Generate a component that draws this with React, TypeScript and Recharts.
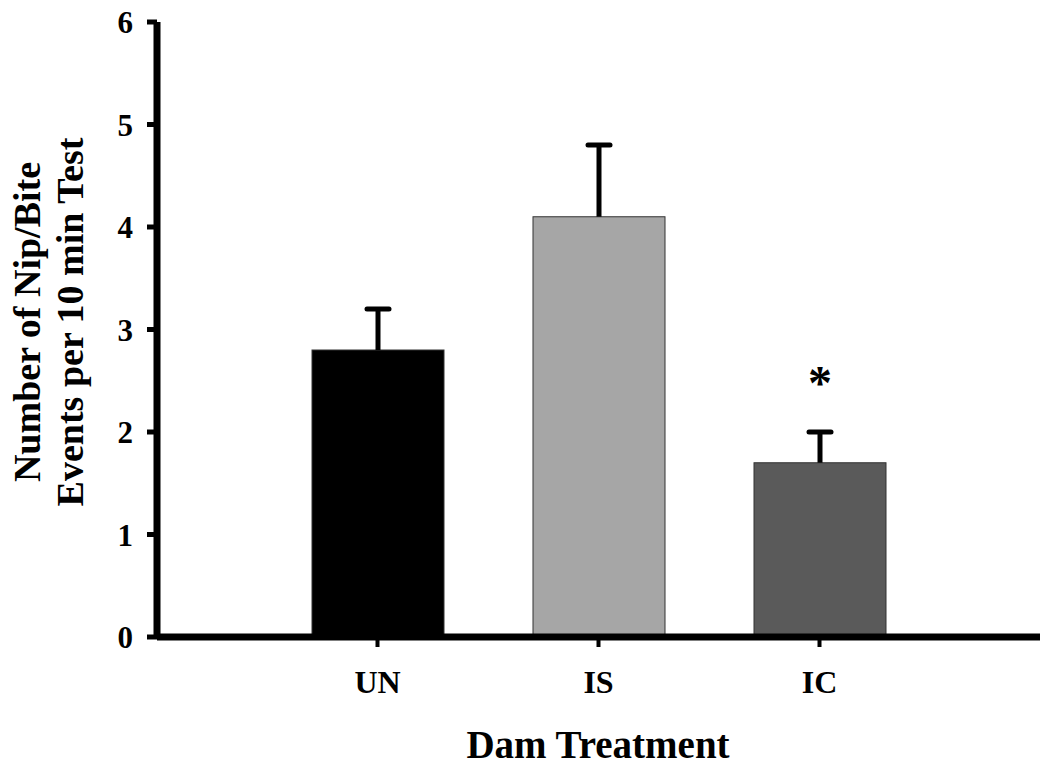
import React from "react";
import { BarChart, Bar, XAxis, YAxis } from "recharts";

const categories = ["UN", "IS", "IC"];
const means = [2.8, 4.1, 1.7];
const sems = [0.4, 0.7, 0.3];
const significant = [false, false, true];
const yTicks = [0, 1, 2, 3, 4, 5, 6];
const barColors = ["#000000", "#a6a6a6", "#5a5a5a"];

const data = categories.map((name, i) => ({
  name,
  mean: means[i],
  sem: sems[i],
  sig: significant[i],
  color: barColors[i],
}));

const FONT = "'Liberation Serif', 'Times New Roman', serif";

const BarWithError = (props: any) => {
  const { x, y, width, height, payload } = props;
  const pxPerUnit = height / payload.mean;
  const cx = x + width / 2;
  const errTop = y - payload.sem * pxPerUnit;
  return (
    <g>
      <rect x={x} y={y} width={width} height={height} fill={payload.color} stroke="#333" strokeWidth={1} />
      <line x1={cx} y1={y} x2={cx} y2={errTop} stroke="#000" strokeWidth={5} />
      <line x1={cx - 11} y1={errTop} x2={cx + 11} y2={errTop} stroke="#000" strokeWidth={5} strokeLinecap="round" />
      {payload.sig && (
        <text x={cx} y={errTop - 33} textAnchor="middle" fontFamily={FONT} fontWeight="bold" fontSize={48} fill="#000">
          *
        </text>
      )}
    </g>
  );
};

// two-line rotated axis title
const YLabel = () => (
  <text
    x={40}
    y={322}
    transform="rotate(-90, 40, 322)"
    textAnchor="middle"
    fontFamily={FONT}
    fontWeight="bold"
    fontSize={38}
    fill="#000"
  >
    <tspan x={40} dy={0}>Number of Nip/Bite</tspan>
    <tspan x={40} dy={43}>Events per 10 min Test</tspan>
  </text>
);

const XLabel = () => (
  <text x={598} y={758} textAnchor="middle" fontFamily={FONT} fontWeight="bold" fontSize={39} fill="#000">
    Dam Treatment
  </text>
);

export default function App() {
  return (
    <div style={{ position: "absolute", left: 0, top: 0, background: "#fff" }}>
      <BarChart
        width={1050}
        height={775}
        data={data}
        margin={{ top: 22, right: 10, bottom: 8, left: 79 }}
      >
        <XAxis
          dataKey="name"
          padding={{ left: 110, right: 110 }}
          height={130}
          axisLine={{ stroke: "#000", strokeWidth: 7 }}
          tickLine={{ stroke: "#000", strokeWidth: 4 }}
          tickSize={10}
          tickMargin={23}
          tick={{ fill: "#000", fontFamily: FONT, fontWeight: "bold", fontSize: 32 }}
          label={{ content: () => <XLabel /> }}
        />
        <YAxis
          domain={[0, 6]}
          ticks={yTicks}
          width={78}
          axisLine={{ stroke: "#000", strokeWidth: 7 }}
          tickLine={{ stroke: "#000", strokeWidth: 5 }}
          tickSize={10}
          tickMargin={14}
          tick={{ fill: "#000", fontFamily: FONT, fontWeight: "bold", fontSize: 31 }}
          label={{ content: () => <YLabel /> }}
        />
        <Bar dataKey="mean" barSize={132} shape={BarWithError} isAnimationActive={false} />
      </BarChart>
    </div>
  );
}
